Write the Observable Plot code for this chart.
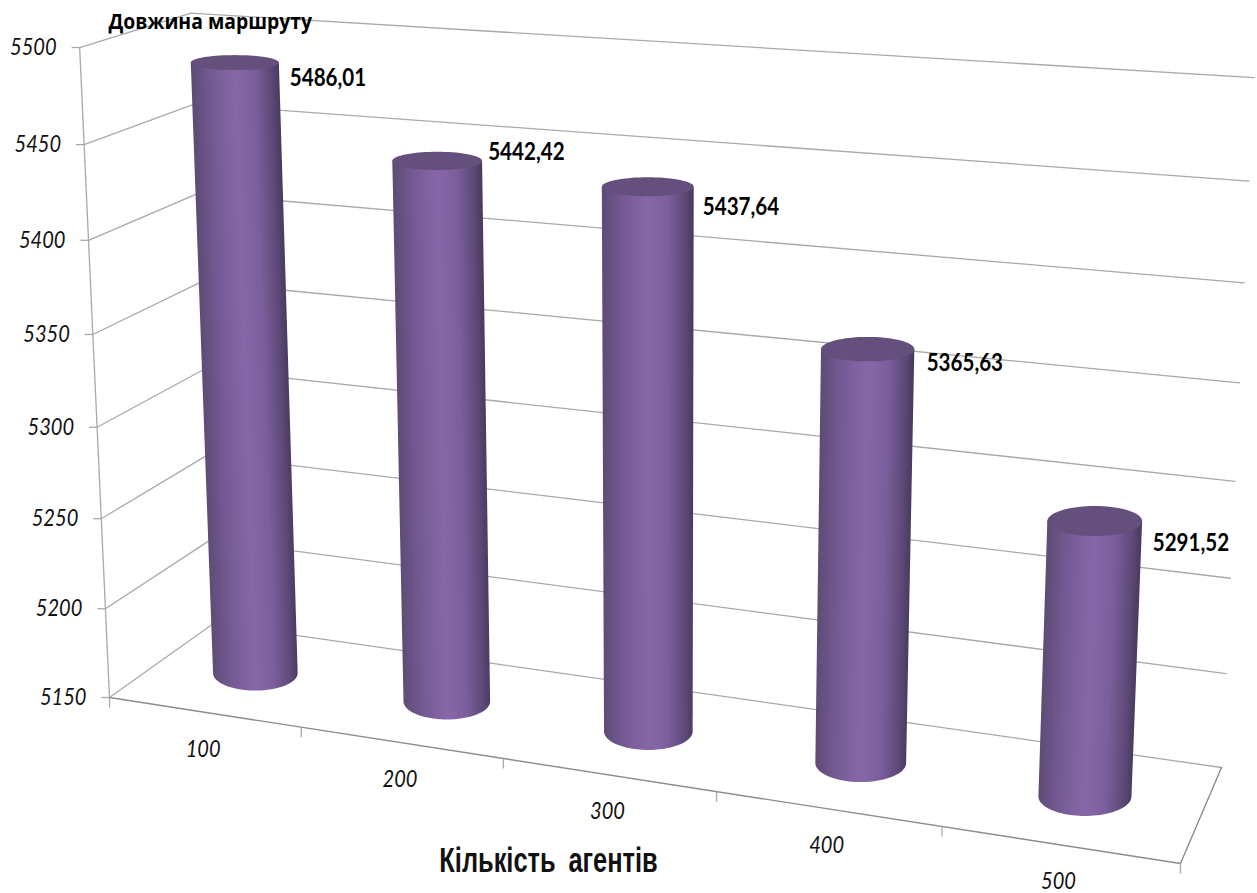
<!DOCTYPE html>
<html>
<head>
<meta charset="utf-8">
<script src="https://cdn.jsdelivr.net/npm/d3@7"></script>
<script src="https://cdn.jsdelivr.net/npm/@observablehq/plot@0.6"></script>
<style>
  html, body { margin: 0; padding: 0; background: #fff; }
  svg { display: block; }
</style>
</head>
<body>
<div id="chart"></div>
<script>
// Series
const agents = [100, 200, 300, 400, 500];
const routeLength = [5486.01, 5442.42, 5437.64, 5365.63, 5291.52];
const routeLabels = ["5486,01", "5442,42", "5437,64", "5365,63", "5291,52"];
const valueTicks = [5150, 5200, 5250, 5300, 5350, 5400, 5450, 5500];
const yTitle = "Довжина маршруту";
const xTitle = "Кількість агентів";

// Camera of the 3D box: the floor as a screen quad [front-left, front-right, back-right, back-left],
// the point where its verticals converge, and the projective weight of the full value range
const floorQuad = [[109, 697], [1180, 863], [1221, 767], [213, 623]];
const verticalVanish = [660, 12700];
const verticalWeight = -0.05137;
const columnDepth = 0.5;
const labelNudge = [[55, 16], [51, -9], [55, 20], [59, 14], [58, 22]];

function quadMap(q) {
  const [[x0, y0], [x1, y1], [x2, y2], [x3, y3]] = q;
  const dx1 = x1 - x2, dx2 = x3 - x2, sx = x0 - x1 + x2 - x3;
  const dy1 = y1 - y2, dy2 = y3 - y2, sy = y0 - y1 + y2 - y3;
  const den = dx1 * dy2 - dx2 * dy1;
  const g = (sx * dy2 - dx2 * sy) / den;
  const h = (dx1 * sy - sx * dy1) / den;
  const a = x1 - x0 + g * x1, b = x3 - x0 + h * x3;
  const d = y1 - y0 + g * y1, e = y3 - y0 + h * y3;
  return (u, w) => [a * u + b * w + x0, d * u + e * w + y0, g * u + h * w + 1];
}
const onFloor = quadMap(floorQuad);
const bottomValue = valueTicks[0];
const topValue = valueTicks[valueTicks.length - 1];
const level = d3.scaleLinear([bottomValue, topValue], [0, verticalWeight]);

// Box coordinates (u along categories, w into depth, value up) to screen
function project(u, w, value) {
  const [X, Y, K] = onFloor(u, w);
  const s = level(value);
  const k = K + s;
  return [(X + s * verticalVanish[0]) / k, (Y + s * verticalVanish[1]) / k];
}

const xPos = d => d[0];
const yPos = d => d[1];

// Walls: one polyline per tick value, running front-left, back-left, back-right
const wallLines = valueTicks.map(v => [project(0, 0, v), project(0, 1, v), project(1, 1, v)]);
const frontAxis = [project(0, 0, bottomValue), project(0, 0, topValue)];
const floorEdge = [project(0, 0, bottomValue), project(1, 0, bottomValue), project(1, 1, bottomValue)];
const valueTickMarks = valueTicks.map(v => { const p = project(0, 0, v); return {x1: p[0] - 8, x2: p[0], y: p[1], v}; });
const catTickMarks = d3.range(0, 6).map(i => { const p = project(i / 5, 0, bottomValue); return {x: p[0], y1: p[1], y2: p[1] + 10}; });

// Cylinders
const radiusX = (cx, cy) => 42.3 + 0.0055 * (cx - 254) + 0.003 * (680 - cy);
const radiusY = cy => 7.5 + 0.0165 * (cy - 63);
const cylinders = routeLength.map((v, i) => {
  const u = (i + 0.5) / agents.length;
  const top = project(u, columnDepth, v);
  const base = project(u, columnDepth, bottomValue);
  return {i, v, top, base,
    topR: [radiusX(...top), radiusY(top[1])],
    baseR: [radiusX(...base), radiusY(base[1])]};
});
function bodyOutline(c) {
  const pts = [];
  for (let k = 0; k <= 48; ++k) {
    const a = Math.PI * k / 48;
    pts.push([c.base[0] - c.baseR[0] * Math.cos(a), c.base[1] + c.baseR[1] * Math.sin(a)]);
  }
  pts.push([c.top[0] + c.topR[0], c.top[1]], [c.top[0] - c.topR[0], c.top[1]]);
  return pts;
}
function capOutline(c) {
  return d3.range(0, 73).map(k => {
    const a = 2 * Math.PI * k / 72;
    return [c.top[0] + c.topR[0] * Math.cos(a), c.top[1] + c.topR[1] * Math.sin(a)];
  });
}

const grid = {stroke: "#a9a9a9", strokeWidth: 1.3};
const tickFont = {fontFamily: "Lato, sans-serif", fontStyle: "italic", fontSize: 20.5, fill: "#111", className: "tick-text"};
const boldFont = {fontFamily: "Lato, sans-serif", fontWeight: 700, fontSize: 21, fill: "#000", className: "value-text"};

const chart = Plot.plot({
  width: 1257,
  height: 893,
  margin: 0,
  style: {background: "#fff", overflow: "visible"},
  x: {domain: [0, 1257], range: [0, 1257], axis: null},
  y: {domain: [0, 893], range: [0, 893], axis: null},
  marks: [
    ...wallLines.map(l => Plot.line(l, {x: xPos, y: yPos, ...grid})),
    Plot.line(frontAxis, {x: xPos, y: yPos, ...grid}),
    Plot.line(floorEdge, {x: xPos, y: yPos, stroke: "#8c8c8c", strokeWidth: 1.4}),
    Plot.link(valueTickMarks, {x1: "x1", x2: "x2", y1: "y", y2: "y", ...grid}),
    Plot.link(catTickMarks, {x1: "x", x2: "x", y1: "y1", y2: "y2", ...grid}),
    ...cylinders.map(c => Plot.line(bodyOutline(c), {x: xPos, y: yPos, fill: `url(#cyl${c.i})`, stroke: "none"})),
    ...cylinders.map(c => Plot.line(capOutline(c), {x: xPos, y: yPos, fill: "#654f7c", stroke: "none"})),
    Plot.text(valueTicks, {
      x: v => project(0, 0, v)[0], y: v => project(0, 0, v)[1],
      text: v => String(v), textAnchor: "end", dx: -23, ...tickFont
    }),
    Plot.text(agents, {
      x: (d, i) => project((i + 0.5) / agents.length, 0, bottomValue)[0],
      y: (d, i) => project((i + 0.5) / agents.length, 0, bottomValue)[1],
      text: d => String(d), dx: -1, dy: 37, ...tickFont
    }),
    Plot.text(cylinders, {
      x: c => c.top[0] + labelNudge[c.i][0], y: c => c.top[1] + labelNudge[c.i][1],
      text: c => routeLabels[c.i], textAnchor: "start", ...boldFont
    }),
    Plot.text([yTitle], {
      x: () => 108, y: () => 22, text: d => d, textAnchor: "start",
      fontFamily: "'Open Sans', sans-serif", fontWeight: 700, fontSize: 19, fill: "#000", className: "y-title"
    }),
    Plot.text([xTitle], {
      x: () => 548, y: () => 860, text: d => d,
      fontFamily: "'Liberation Sans', sans-serif", fontWeight: 700, fontSize: 31, fill: "#111", className: "x-title"
    })
  ]
});

// Gradients run across each column's own axis so the shading follows its lean
const defs = d3.select(chart).insert("defs", ":first-child");
cylinders.forEach(c => {
  const ax = c.top[0] - c.base[0], ay = c.top[1] - c.base[1];
  const len = Math.hypot(ax, ay);
  const nx = -ay / len, ny = ax / len;
  const mx = (c.top[0] + c.base[0]) / 2, my = (c.top[1] + c.base[1]) / 2;
  const r = (c.topR[0] + c.baseR[0]) / 2;
  const g = defs.append("linearGradient").attr("id", `cyl${c.i}`)
    .attr("gradientUnits", "userSpaceOnUse")
    .attr("x1", mx - nx * r).attr("y1", my - ny * r)
    .attr("x2", mx + nx * r).attr("y2", my + ny * r);
  [[0, "#5e4b76"], [0.22, "#745a93"], [0.5, "#8867a9"], [0.72, "#7b5e9c"], [0.9, "#5f4a7a"], [1, "#4a3a5f"]]
    .forEach(([o, col]) => g.append("stop").attr("offset", o).attr("stop-color", col));
});

// Stretch the lettering to the tall, narrow proportions of the chart's typeface
const stretch = (cls, sx, sy) => d3.select(chart).selectAll(`.${cls} text`).each(function () {
  this.setAttribute("transform", (this.getAttribute("transform") || "") + ` scale(${sx},${sy})`);
});
stretch("tick-text", 0.98, 1.15);
stretch("value-text", 0.98, 1.15);
stretch("y-title", 1.02, 1.15);
stretch("x-title", 0.82, 1.12);
d3.select(chart).selectAll(".x-title text").style("word-spacing", "7px");

document.getElementById("chart").appendChild(chart);
</script>
</body>
</html>
